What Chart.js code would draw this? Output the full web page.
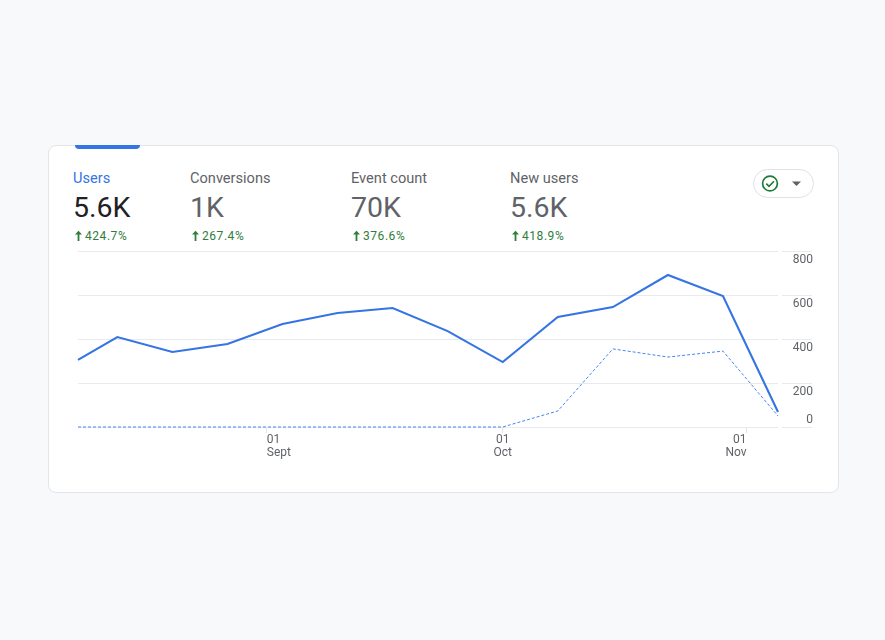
<!DOCTYPE html>
<html><head><meta charset="utf-8">
<script src="https://cdn.jsdelivr.net/npm/chart.js@4/dist/chart.umd.js"></script>
<style>
html,body{margin:0;padding:0;width:885px;height:640px;overflow:hidden;background:#f8f9fb;font-family:Roboto,sans-serif}
#card{position:absolute;left:48px;top:145px;width:789px;height:346px;background:#fff;border:1px solid #e3e5e9;border-radius:8px;box-sizing:content-box}
#tab{position:absolute;left:75px;top:145px;width:65px;height:4px;background:#3574e3;border-radius:0 0 4px 4px}
canvas{position:absolute;left:0;top:0}
.t{position:absolute;top:170px;font-size:14.6px;line-height:17px;color:#5f6368;white-space:nowrap}
.v{position:absolute;top:191px;font-size:28.5px;line-height:34px;color:#5f6368;white-space:nowrap}
.p{position:absolute;top:228px;font-size:12px;line-height:16px;letter-spacing:.55px;color:#2f7d3c;white-space:nowrap}
.p svg{position:absolute;left:-11px;top:2px}
#pill{position:absolute;left:753px;top:169px;width:59px;height:27px;border:1px solid #dfe1e5;border-radius:15px;background:#fff}
</style></head><body>
<div id="card"></div><div id="tab"></div>
<div id="head"></div>
<div id="pill">
<svg width="59" height="27" viewBox="0 0 59 27" style="position:absolute;left:0;top:0">
<circle cx="16" cy="13.5" r="7.4" fill="none" stroke="#1e7a34" stroke-width="1.7"/>
<path d="M12.3 13.6l2.7 2.7 5-5" fill="none" stroke="#1e7a34" stroke-width="1.6"/>
<path d="M38 11.5h9l-4.5 4.5z" fill="#5f6368"/></svg></div>
<canvas id="c" width="885" height="640"></canvas>
<script>
const metricNames=["Users","Conversions","Event count","New users"];
const metricValues=["5.6K","1K","70K","5.6K"];
const metricChanges=["424.7%","267.4%","376.6%","418.9%"];
const days=[7,12,19,26,33,40,47,54,61,68,75,82,89,96];
const usersCurrent=[305,409,341,377,468,518,541,436,295,500,545,691,595,68];
const usersPrevious=[0,0,0,0,0,0,0,0,0,73,355,318,345,50];
const tickDays=[31,61,92];
const tickLabels=[["01","Sept"],["01","Oct"],["01","Nov"]];
const yTicks=[0,200,400,600,800];

const colX=[73,190,351,510];
const head=document.getElementById('head');
metricNames.forEach((n,i)=>{
 const x=colX[i];
 head.insertAdjacentHTML('beforeend',
 `<div class="t" style="left:${x}px;${i==0?'color:#3574e3':''}">${n}</div>`+
 `<div class="v" style="left:${x}px;${i==0?'color:#202124':''}">${metricValues[i]}</div>`+
 `<div class="p" style="left:${x+12}px"><svg width="9" height="12" viewBox="0 0 9 12"><path d="M4.5 .8L8 4.6H5.4V11H3.6V4.6H1z" fill="#2f7d3c"/></svg>${metricChanges[i]}</div>`);
});

new Chart(document.getElementById('c'),{
 type:'line',
 data:{datasets:[
  {data:days.map((d,i)=>({x:d,y:usersCurrent[i]})),borderColor:'#3574e3',borderWidth:2.1,pointRadius:0,tension:0,clip:false,order:1},
  {data:days.map((d,i)=>({x:d,y:usersPrevious[i]})),borderColor:'#4285f4',borderWidth:1,borderDash:[3,2],pointRadius:0,tension:0,clip:false,order:2}
 ]},
 options:{
  responsive:false,animation:false,
  layout:{padding:{left:78,top:251,right:72,bottom:0}},
  plugins:{legend:{display:false},tooltip:{enabled:false}},
  scales:{
   x:{type:'linear',min:days[0],max:96.25,
    afterBuildTicks:s=>{s.ticks=tickDays.map(v=>({value:v}))},
    afterFit:s=>{s.height=640-427},
    grid:{drawOnChartArea:false,drawTicks:true,tickLength:6,color:'#e3e5e9'},
    border:{display:false},
    ticks:{autoSkip:false,maxRotation:0,minRotation:0,align:'inner',padding:0,color:'#5f6368',
     font:{family:'Roboto',size:12,lineHeight:1.1},
     callback:v=>tickLabels[tickDays.indexOf(v)]}},
   y:{position:'right',min:0,max:800,
    afterBuildTicks:s=>{s.ticks=yTicks.map(v=>({value:v}))},
    afterFit:s=>{s.width=33},
    grid:{color:'#e8eaed',lineWidth:1,tickLength:32,drawTicks:true},
    border:{display:true,color:'#ffffff',width:4},
    ticks:{autoSkip:false,crossAlign:'far',padding:0,labelOffset:9,color:'#5f6368',
     font:{family:'Roboto',size:12,lineHeight:1.33},
     callback:v=>v===0?['0','','']:String(v)}}
  }
 }
});
</script>
</body></html>
